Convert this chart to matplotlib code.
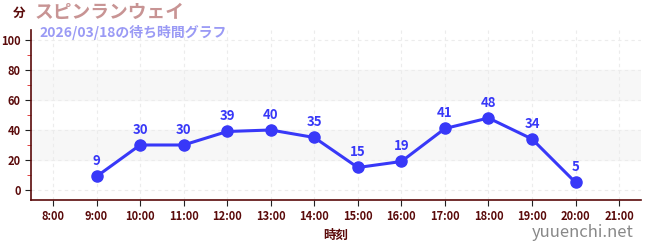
import matplotlib.pyplot as plt

plt.rcParams['font.family'] = ['Noto Sans CJK JP', 'DejaVu Sans']

# data
hours = [9, 10, 11, 12, 13, 14, 15, 16, 17, 18, 19, 20]
waits = [9, 30, 30, 39, 40, 35, 15, 19, 41, 48, 34, 5]
tick_hours = list(range(8, 22))
tick_labels = [f"{h}:00" for h in tick_hours]

axis_col = '#5a0a0a'
line_col = '#3838f8'

fig = plt.figure(figsize=(6.5, 2.5), dpi=100)
ax = fig.add_axes([0.048, 0.2, 0.938, 0.68])

# light bands
for lo, hi in [(20, 40), (60, 80)]:
    ax.axhspan(lo, hi, color='#f7f7f7', zorder=0)

ax.plot(hours, waits, color=line_col, lw=2.2, marker='o', ms=8, zorder=3)
for h, w in zip(hours, waits):
    ax.annotate(str(w), (h, w), xytext=(0, 6), textcoords='offset points',
                ha='center', va='bottom', color=line_col, fontsize=9.5,
                fontweight='bold')

ax.set_xlim(7.5, 21.5)
ax.set_ylim(-6.67, 106.67)
ax.set_xticks(tick_hours)
ax.set_xticklabels(tick_labels)
ax.set_yticks([0, 20, 40, 60, 80, 100])
ax.set_yticks([10, 30, 50, 70, 90], minor=True)
ax.grid(True, which='major', color='#ececec', ls=(0, (3, 3)), lw=0.8)
ax.set_axisbelow(True)

for s in ['top', 'right']:
    ax.spines[s].set_visible(False)
for s in ['left', 'bottom']:
    ax.spines[s].set_color(axis_col)
    ax.spines[s].set_linewidth(1.2)

ax.tick_params(axis='both', which='major', colors='#222222', labelcolor=axis_col,
               labelsize=8, length=4)
ax.tick_params(axis='y', which='minor', colors='#dd2222', length=3)
for lab in ax.get_xticklabels() + ax.get_yticklabels():
    lab.set_fontweight('bold')

ax.set_xlabel('時刻', color=axis_col, fontsize=9, fontweight='bold', labelpad=4)

fig.text(0.02, 0.945, '分', color=axis_col, fontsize=9, fontweight='bold', va='center')
fig.text(0.053, 0.95, 'スピンランウェイ', color='#c89494', fontsize=13.5,
         fontweight='bold', va='center')
fig.text(0.061, 0.868, '2026/03/18の待ち時間グラフ', color='#9a9af5', fontsize=10,
         fontweight='bold', va='center')
fig.text(0.975, 0.07, 'yuuenchi.net', color='#888888', fontsize=12,
         ha='right', va='center')

fig.savefig('out.png', dpi=100)
